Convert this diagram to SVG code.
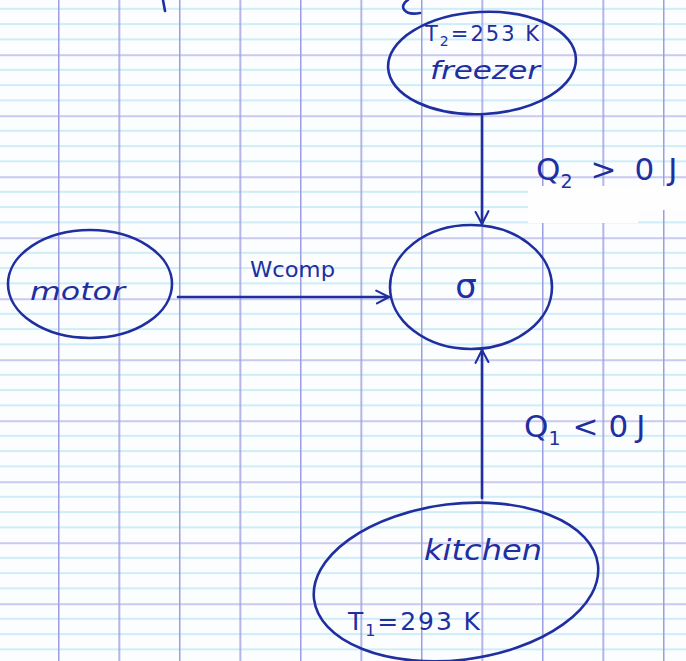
<svg xmlns="http://www.w3.org/2000/svg" width="686" height="661" viewBox="0 0 686 661">
  <defs>
    <pattern id="grid" patternUnits="userSpaceOnUse" x="58" y="54.5" width="60.5" height="61">
      <rect x="0" y="14.8" width="60.5" height="1.1" fill="#a9e0f2"/>
      <rect x="0" y="30.0" width="60.5" height="1.1" fill="#a9e0f2"/>
      <rect x="0" y="45.3" width="60.5" height="1.1" fill="#a9e0f2"/>
      <rect x="0" y="0" width="60.5" height="1.3" fill="#aeaee6"/>
      <rect x="0" y="0" width="1.5" height="61" fill="#9c9ee0"/>
    </pattern>
    <marker id="arrow" viewBox="0 0 20 20" refX="18" refY="10" markerWidth="16" markerHeight="16" markerUnits="userSpaceOnUse" orient="auto">
      <path d="M2,2 L18,10 L3,18" fill="none" stroke="#1f2f9f" stroke-width="2.6" stroke-linecap="round" stroke-linejoin="round"/>
    </marker>
  </defs>
  <style>
    .ink { fill: none; stroke: #1f2f9f; stroke-width: 2.6; stroke-linecap: round; stroke-linejoin: round; }
    .lbl { font-family: "DejaVu Sans", "Liberation Sans", sans-serif; fill: #1f2f9f; }
  </style>

  <rect width="686" height="661" fill="#fcfdff"/>
  <rect width="686" height="661" fill="url(#grid)"/>
  <!-- whited-out patches -->
  <rect x="528" y="186" width="158" height="24" fill="#fefefe"/>
  <rect x="528" y="186" width="110" height="37" fill="#fefefe"/>

  <!-- fragments at the top edge -->
  <path class="ink" d="M163,0 L165,11"/>
  <path class="ink" d="M408,0 C398,6 404,16 420,13"/>

  <g id="connectors">
    <line class="ink" x1="482" y1="116" x2="482" y2="224" marker-end="url(#arrow)"/>
    <line class="ink" x1="178" y1="297" x2="389" y2="297" marker-end="url(#arrow)"/>
    <line class="ink" x1="482" y1="498" x2="482" y2="350" marker-end="url(#arrow)"/>
    <text class="lbl" x="250" y="277" font-size="22" textLength="85" lengthAdjust="spacingAndGlyphs">Wcomp</text>
    <text class="lbl" x="536" y="180" font-size="31">Q<tspan font-size="19" dy="8">2</tspan><tspan dy="-8" dx="18">&gt;</tspan><tspan dx="18">0</tspan><tspan dx="14">J</tspan></text>
    <text class="lbl" x="524" y="437" font-size="31">Q<tspan font-size="19" dy="8">1</tspan><tspan dy="-8" dx="12">&lt;</tspan><tspan dx="10">0</tspan><tspan dx="8">J</tspan></text>
  </g>

  <g id="freezer">
    <ellipse class="ink" cx="482" cy="63" rx="94" ry="51" transform="rotate(-3 482 63)"/>
    <text class="lbl" x="425" y="41" font-size="21" textLength="114" lengthAdjust="spacing">T<tspan font-size="14" dy="5">2</tspan><tspan dy="-5">=253 K</tspan></text>
    <text class="lbl" x="430" y="79" font-size="25" font-style="italic" textLength="110" lengthAdjust="spacingAndGlyphs">freezer</text>
  </g>

  <g id="sigma">
    <ellipse class="ink" cx="471" cy="287" rx="81" ry="62"/>
    <text class="lbl" x="466" y="298" font-size="34" text-anchor="middle">σ</text>
  </g>

  <g id="motor">
    <ellipse class="ink" cx="90" cy="284" rx="82" ry="54"/>
    <text class="lbl" x="30" y="300" font-size="25" font-style="italic" textLength="95" lengthAdjust="spacingAndGlyphs">motor</text>
  </g>

  <g id="kitchen">
    <ellipse class="ink" cx="456" cy="582" rx="143" ry="78" transform="rotate(-7 456 582)"/>
    <text class="lbl" x="424" y="560" font-size="28" font-style="italic" textLength="118" lengthAdjust="spacingAndGlyphs">kitchen</text>
    <text class="lbl" x="348" y="630" font-size="25" textLength="132" lengthAdjust="spacing">T<tspan font-size="16" dy="6">1</tspan><tspan dy="-6">=293 K</tspan></text>
  </g>
</svg>
